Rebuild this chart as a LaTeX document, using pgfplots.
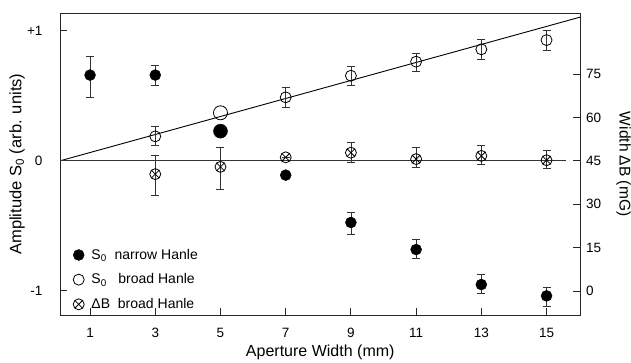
\documentclass[border=0pt]{standalone}
\usepackage{pgfplots}
\pgfplotsset{compat=1.18}
\usepackage{pgfplotstable}
\usepackage{fontspec}
\setmainfont{Liberation Sans}
\usetikzlibrary{plotmarks,calc}

\pgfplotstableread{
x y ep em
1 0.659 0.141 0.174
3 0.659 0.072 0.077
7 -0.110 0 0
9 -0.474 0.077 0.090
11 -0.682 0.080 0.064
13 -0.951 0.082 0.064
15 -1.038 0.069 0.080
}\narrow
\pgfplotstableread{
x y ep em
3 0.188 0.079 0.070
7 0.488 0.077 0.073
9 0.654 0.074 0.072
11 0.762 0.068 0.077
13 0.857 0.077 0.077
15 0.928 0.072 0.076
}\broad
\pgfplotstableread{
x y ep em
3 40.4 6.6 7.5
5 42.9 6.6 7.7
7 46.2 0 0
9 47.8 3.6 3.4
11 45.6 3.9 2.9
13 46.7 3.6 2.8
15 45.2 3.5 2.8
}\width

\pgfplotsset{
  common/.style={
    scale only axis, width=520pt, height=302pt,
    xmin=0.08, xmax=16.04,
    tick align=inside, major tick length=7pt,
    axis line style={line width=0.9pt, black!85},
    every tick/.style={line width=0.9pt, black!85},
    tick label style={font=\fontsize{13.5}{15}\selectfont},
    /pgf/number format/assume math mode=true,
    error bars/error bar style={line width=0.6pt, black!80},
    error bars/error mark options={rotate=90, mark size=4pt, line width=0.6pt, black!80},
  },
}

\begin{document}
\begin{tikzpicture}
\begin{axis}[common,
  ymin=-1.187, ymax=1.136,
  xtick={1,3,...,15}, xtick pos=bottom, ytick pos=left,
  ytick={-1,0,1}, yticklabels={-1,0,+1},
  xlabel={Aperture Width (mm)},
  ylabel={Amplitude S\textsubscript{0} (arb. units)},
  xticklabel style={yshift=-9pt},
  yticklabel style={xshift=-14pt},
  xlabel style={font=\fontsize{16}{18}\selectfont, at={(axis description cs:0.5,-0.123)}, anchor=center},
  ylabel style={font=\fontsize{16.5}{18}\selectfont, at={(axis description cs:-0.0827,0.5)}, anchor=center},
  legend style={at={(0.013,0.003)}, anchor=south west, draw=none, fill=none,
    font=\fontsize{14}{15}\selectfont, row sep=9pt},
  legend cell align=left,
  legend image code/.code={\draw[#1, only marks] plot coordinates {(8.5pt,0pt)}; \path (0pt,0pt) (19pt,0pt);},
]
\coordinate (bl) at (rel axis cs:0,0);
\coordinate (tr) at (rel axis cs:1,1);
\addplot[black, line width=0.9pt, forget plot] coordinates {(0.08,0) (16.04,1.105)};
\addplot[black!80, line width=0.9pt, forget plot] coordinates {(0.08,0) (15.6,0)};
\addplot[only marks, mark=*, mark size=5.5pt, black, mark options={fill=black},
  error bars/.cd, y dir=both, y explicit]
  table[x=x, y=y, y error plus=ep, y error minus=em] {\narrow};
\addlegendentry{S\textsubscript{0}\ \ narrow Hanle}
\addplot[only marks, mark=o, mark size=5.5pt, black, mark options={line width=0.8pt},
  error bars/.cd, y dir=both, y explicit]
  table[x=x, y=y, y error plus=ep, y error minus=em] {\broad};
\addlegendentry{S\textsubscript{0}\ \ \ broad Hanle}
\addlegendimage{only marks, mark=otimes, mark size=5.5pt, black, mark options={line width=0.8pt}}
\addlegendentry{ΔB\ \ broad Hanle}
\addplot[only marks, mark=*, mark size=7pt, black, forget plot] coordinates {(5,0.228)};
\addplot[only marks, mark=o, mark size=7pt, black, mark options={line width=0.8pt}, forget plot] coordinates {(5,0.369)};
\end{axis}
\begin{axis}[common,
  ymin=-8.4, ymax=96.1,
  axis x line=none, axis y line*=right,
  ytick={0,15,...,75},
  ylabel={Width ΔB (mG)},
  ylabel style={rotate=180, font=\fontsize{15.5}{17}\selectfont, at={(axis description cs:1.083,0.5)}, anchor=center},
  yticklabel style={xshift=2pt},
]
\addplot[only marks, mark=otimes, mark size=5.5pt, black, mark options={line width=0.8pt},
  error bars/.cd, y dir=both, y explicit]
  table[x=x, y=y, y error plus=ep, y error minus=em] {\width};
\end{axis}
\pgfresetboundingbox
\path ($(bl)+(-60pt,-47pt)$) rectangle ($(tr)+(50.5pt,13pt)$);
\end{tikzpicture}
\end{document}
